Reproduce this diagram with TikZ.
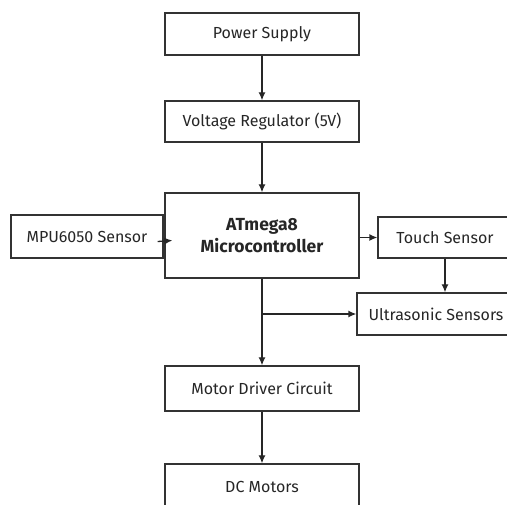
\documentclass[tikz,border=0pt]{standalone}
\usepackage{fontspec}
\setmainfont{Fira Sans}
\usepackage{tikz}
\usetikzlibrary{arrows.meta,calc}
\tikzset{
    blk/.style={draw=black!80, line width=1.3pt, fill=white, inner sep=0pt,
        font=\fontsize{16}{19}\selectfont, text=black!85},
    arr/.style={draw=black!85, line width=1.3pt, -{Latex[length=8pt,width=7pt]}},
}
\begin{document}
\begin{tikzpicture}[
                x=1pt, y=-1pt, % 像素坐标
            ]
            \useasboundingbox (0,0) rectangle (507,505);
            \clip (0,0) rectangle (507,505);
            % 方框
            \node[blk, minimum width=194pt, minimum height=42pt] (power) at (262,34) {Power Supply};
            \node[blk, minimum width=194pt, minimum height=41pt] (volt) at (262,121.5) {Voltage Regulator (5V)};
            \node[blk, minimum width=194pt, minimum height=85pt, align=center,
                font=\fontsize{17.5}{22}\selectfont\bfseries] (micro) at (262,235.5) {ATmega8\\Microcontroller};
            \node[blk, minimum width=152pt, minimum height=43pt] (mpu) at (87,236.5) {MPU6050 Sensor};
            \node[blk, minimum width=134pt, minimum height=41pt] (touch) at (445,237.5) {Touch Sensor};
            \node[blk, minimum width=158pt, minimum height=42pt] (ultra) at (436,314) {Ultrasonic Sensors};
            \node[blk, minimum width=194pt, minimum height=45pt] (motor) at (262,388.5) {Motor Driver Circuit};
            \node[blk, minimum width=194pt, minimum height=46pt] (dc) at (262,487) {DC Motors};
            % 分支点
            \coordinate (br) at (micro.south |- ultra.west);
            % 箭头
            \draw[arr] (power) -- (volt);
            \draw[arr] (volt) -- (micro);
            \draw[arr] (micro) -- (motor);
            \draw[arr] (br) -- (ultra.west);
            \draw[arr] ([xshift=-6pt,yshift=-5pt]mpu.east) -- ([xshift=8pt,yshift=-5pt]micro.west);
            \draw[arr] (micro.east |- touch.west) -- (touch.west);
            \draw[arr] (touch.south) -- (touch.south |- ultra.north);
            \draw[arr] (motor) -- (dc);
            \end{tikzpicture}
\end{document}
